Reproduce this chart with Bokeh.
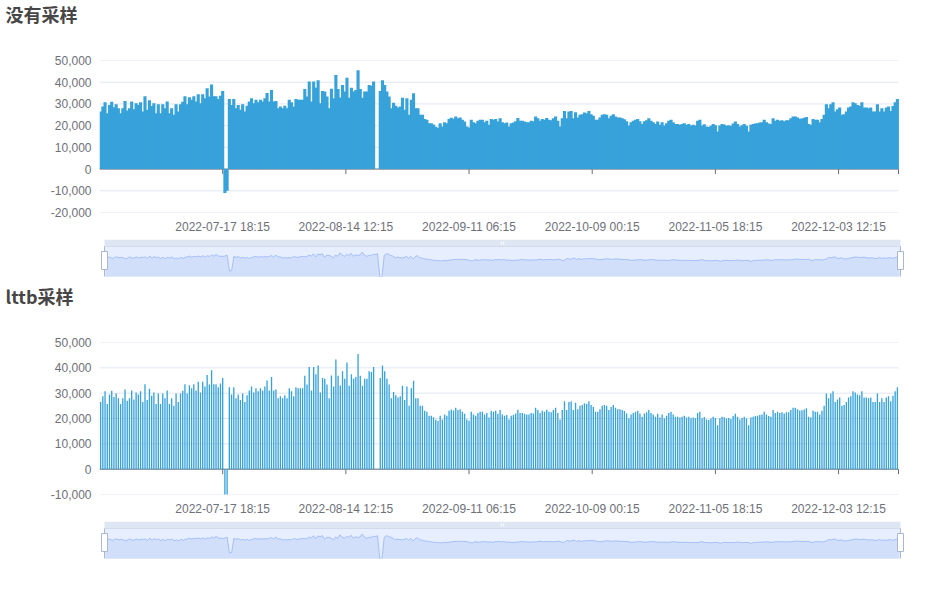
import numpy as np
import pandas as pd
from bokeh.plotting import figure
from bokeh.layouts import column
from bokeh.models import Range1d, FixedTicker, NumeralTickFormatter, DatetimeTickFormatter
from bokeh.embed import file_html
from bokeh.resources import INLINE

NaN = float("nan")

# ---------------- data ----------------
start_time = "2022-06-20 00:15"
step_hours = 12
tick_labels = ["2022-07-17 18:15", "2022-08-14 12:15", "2022-09-11 06:15",
               "2022-10-09 00:15", "2022-11-05 18:15", "2022-12-03 12:15"]
titles = ["没有采样", "lttb采样"]

seg_jun_jul = [26500, 28800, 30800, 25700, 29500, 31000, 28500, 29900, 28000, 25700,
               28000, 31400, 27000, 28000, 31100, 27500, 30300, 29500, 30800, 26500,
               33500, 27300, 31700, 29000, 30300, 25700, 29900, 25700, 29900, 28000,
               31100, 25700, 28000, 25000, 29900, 26500, 29900, 31000, 33500, 29900,
               33100, 31900, 33500, 31100, 34500, 30300, 34500, 32600, 37200, 33400,
               39000, 33500, 33500, 32300, 33800, 36000, -11000, -10000, 32300, 29500,
               32300, 28000, 29500, 27300, 29900, 26500, 29200, 31100, 32600, 30300,
               31900, 30800, 31900, 31100, 32600, 35000, 31100, 36400, 31100, 31400,
               28000, 28800, 28000, 29200, 28000, 31900, 30800, 28800, 32300, 31900,
               31900]
seg_aug_sep = [31900, 36900, 33400, 40300, 31100, 40300, 37500, 40900, 30300, 36000,
               35700, 33400, 28000, 37000, 32600, 43300, 36900, 33000, 38700, 35700,
               42100, 32900, 37500, 35700, 36400, 45500, 36900, 32900, 35700, 35700,
               38700, 38400, 40300, NaN, NaN, 36000, 40900, 38700, 35700, 33400,
               28000, 30500, 29200, 28300, 28800, 32900, 27300, 32600, 25000, 31900,
               34900, 28000, 28000, 25000, 25000, 23100, 22700, 21100, 21100, 20500,
               19500, 19000, 21100, 19600, 21600, 21100, 23100, 23600, 23200, 24200,
               23400, 23700, 22700, 21900, 19600, 19100, 22700, 21600, 21100, 22200,
               22700, 22700, 21600, 22200, 20400, 23100, 22700, 23100, 21900, 23400]
seg_sep_nov = [21600, 21100, 21400, 19600, 21100, 21500, 22000, 23500, 22200, 22200,
               21900, 21600, 21600, 22200, 22000, 24200, 23400, 22200, 23100, 22700,
               23500, 22700, 22500, 23400, 24200, 22200, 19600, 23400, 26800, 23400,
               26500, 26800, 23400, 26200, 23700, 25000, 25300, 26000, 25700, 26800,
               25300, 24500, 22700, 22700, 23700, 25000, 25300, 25000, 23400, 24500,
               25300, 24200, 23700, 23700, 23400, 23000, 22000, 20100, 21600, 22200,
               22700, 23100, 22000, 20700, 22000, 22500, 23400, 22200, 21600, 20700,
               21900, 20400, 21600, 20100, 21100, 22200, 22700, 21600, 20700, 20700,
               20400, 20700, 21100, 20400, 20700, 20100, 20400, 20100, 22200, 22700]
seg_nov_dec = [20100, 20600, 19600, 19400, 20000, 20700, 20200, 17300, 20100, 20700,
               20500, 20000, 20200, 19800, 21000, 21900, 20700, 19600, 20200, 20700,
               20000, 17300, 20400, 20700, 21000, 21100, 21400, 21600, 22700, 21600,
               21000, 20700, 23400, 22200, 22700, 22200, 22500, 22000, 22500, 22500,
               23400, 24200, 24200, 23700, 23200, 23300, 23600, 24000, 20700, 20400,
               23100, 22700, 22700, 21600, 23100, 25000, 29900, 28000, 29900, 30800,
               26500, 27500, 28300, 25000, 25300, 26500, 28300, 28800, 30800, 30300,
               29500, 29200, 30800, 28300, 28300, 28000, 28300, 26500, 26500, 29900,
               26500, 28000, 26500, 28300, 28800, 26800, 29000, 30800, 32300]

values = np.array(seg_jun_jul + seg_aug_sep + seg_sep_nov + seg_nov_dec, dtype=float)

# ---------------- derived ----------------
START = pd.Timestamp(start_time)
n = len(values)
slot_ms = step_hours * 3600 * 1000.0
x0 = START.value / 1e6
x1 = x0 + n * slot_ms
xc = x0 + (np.arange(n) + 0.5) * slot_ms
tick_ms = [pd.Timestamp(t).value / 1e6 for t in tick_labels]

BAR = "#37A2DA"
AXIS = "#6E7079"
GRID = "#E0E6F1"
FONT = "Liberation Sans"
W = 920
FRAME_L = 99          # left edge of every frame
DATA_R = 898          # right end of the bar charts' data
FRAME_R = 906         # common right edge of the frames (slider handle needs room)
FRAME_H = 152
TITLE_H = 40


def make_title(text):
    p = figure(width=W, height=TITLE_H, x_range=Range1d(0, 1), y_range=Range1d(0, 1),
               output_backend="svg", toolbar_location=None, title=text,
               x_axis_location=None, y_axis_location=None,
               min_border_left=FRAME_L, min_border_right=W - FRAME_R,
               min_border_top=0, min_border_bottom=0)
    p.grid.visible = False
    p.outline_line_color = None
    t = p.title
    t.text_font = "Noto Sans CJK SC"
    t.text_font_size = "18px"
    t.text_font_style = "bold"
    t.text_color = "#464646"
    t.align = "left"
    t.offset = 5 - FRAME_L
    t.vertical_align = "top"
    t.standoff = 0
    return p


def make_chart(y_lo, y_hi, bar_frac, bot_b):
    ppx = (x1 - x0) / (DATA_R - FRAME_L)
    top_b = 60 - TITLE_H
    p = figure(width=W, height=FRAME_H + bot_b + top_b, x_axis_type="datetime",
               x_range=Range1d(x0, x0 + ppx * (FRAME_R - FRAME_L)),
               y_range=Range1d(y_lo, y_hi),
               output_backend="svg", toolbar_location=None,
               min_border_left=FRAME_L, min_border_right=W - FRAME_R,
               min_border_top=top_b, min_border_bottom=bot_b)
    p.outline_line_color = None
    p.grid.visible = False
    yticks = list(range(y_lo, y_hi + 1, 10000))
    p.yaxis.ticker = FixedTicker(ticks=yticks)
    p.yaxis.formatter = NumeralTickFormatter(format="0,0")
    p.yaxis.axis_line_color = None
    p.yaxis.major_tick_line_color = None
    p.yaxis.minor_tick_line_color = None
    p.yaxis.major_tick_out = 0
    p.yaxis.major_tick_in = 0
    p.yaxis.major_label_text_color = AXIS
    p.yaxis.major_label_text_font = FONT
    p.yaxis.major_label_text_font_size = "12px"
    p.yaxis.major_label_standoff = 8

    p.xaxis.ticker = FixedTicker(ticks=tick_ms)
    fmt = DatetimeTickFormatter()
    for f in ["microseconds", "milliseconds", "seconds", "minsec", "minutes",
              "hourmin", "hours", "days", "months", "years"]:
        setattr(fmt, f, "%Y-%m-%d %H:%M")
    p.xaxis.formatter = fmt
    p.xaxis.axis_line_color = None
    p.xaxis.major_tick_line_color = None
    p.xaxis.minor_tick_line_color = None
    p.xaxis.major_tick_out = 0
    p.xaxis.major_tick_in = 0
    p.xaxis.major_label_text_color = AXIS
    p.xaxis.major_label_text_font = FONT
    p.xaxis.major_label_text_font_size = "12px"
    p.xaxis.major_label_standoff = 7

    # horizontal grid lines over the data extent only
    p.segment(x0=x0, x1=x1, y0=yticks, y1=yticks, line_color=GRID, line_width=1)
    # zero axis line and its ticks (under the bars)
    tick_len = 5 * (y_hi - y_lo) / FRAME_H
    p.segment(x0=x0, x1=x1, y0=0, y1=0, line_color=AXIS, line_width=1)
    p.segment(x0=tick_ms + [x1], y0=0, x1=tick_ms + [x1], y1=-tick_len,
              line_color=AXIS, line_width=1)
    p.vbar(x=xc, top=values, bottom=0, width=slot_ms * bar_frac,
           fill_color=BAR, line_color=None)
    return p


def make_slider(top_b, bot_b):
    mpp = (x1 - x0) / 796.0
    p = figure(width=W, height=top_b + 37 + bot_b,
               x_range=Range1d(x0 - 5 * mpp, x0 - 5 * mpp + mpp * (FRAME_R - FRAME_L)),
               y_range=Range1d(0, 37 / 30),
               output_backend="svg", toolbar_location=None,
               x_axis_location=None, y_axis_location=None,
               min_border_left=FRAME_L, min_border_right=W - FRAME_R,
               min_border_top=top_b, min_border_bottom=bot_b)
    p.grid.visible = False
    p.outline_line_color = None
    vmin, vmax = np.nanmin(values), np.nanmax(values)
    off = (vmax - vmin) * 0.3
    lo, hi = vmin - off, vmax + off
    norm = np.where(np.isnan(values), 0.0, (values - lo) / (hi - lo))
    # move handle bar
    p.quad(left=x0, right=x1, bottom=1, top=37 / 30, fill_color="#D2DBEE",
           fill_alpha=0.7, line_color=None)
    # filler
    p.quad(left=x0, right=x1, bottom=0, top=1, fill_color="rgb(135,175,255)",
           fill_alpha=0.2, line_color="#D2DBEE", line_width=1)
    # data shadow
    p.varea(x=xc, y1=0, y2=norm, fill_color="#D2DBEE", fill_alpha=0.2)
    p.varea(x=xc, y1=0, y2=norm, fill_color="#8FB0F7", fill_alpha=0.2)
    p.line(x=xc, y=norm, line_color="#8FB0F7", line_width=0.8, line_alpha=0.9)
    # grip on move handle
    mid = (x0 + x1) / 2
    p.rect(x=[mid - 1.2 * mpp, mid + 1.2 * mpp], y=1 + 3.5 / 30, width=1,
           height=3, width_units="screen", height_units="screen",
           fill_color="white", line_color=None)
    # handles
    p.segment(x0=[x0, x1], y0=0, x1=[x0, x1], y1=1, line_color="#ACB8D1", line_width=1)
    p.rect(x=[x0, x1], y=16 / 30, width=6, height=18, width_units="screen",
           height_units="screen", fill_color="white", line_color="#ACB8D1", line_width=1)
    return p


t1 = make_title(titles[0])
c1 = make_chart(-20000, 50000, 1.4, 24)
s1 = make_slider(3, 6)
t2 = make_title(titles[1])
c2 = make_chart(-10000, 50000, 0.6, 24)
s2 = make_slider(3, 10)

layout = column(t1, c1, s1, t2, c2, s2, spacing=0)
open("out.html", "w").write(file_html(layout, INLINE))
